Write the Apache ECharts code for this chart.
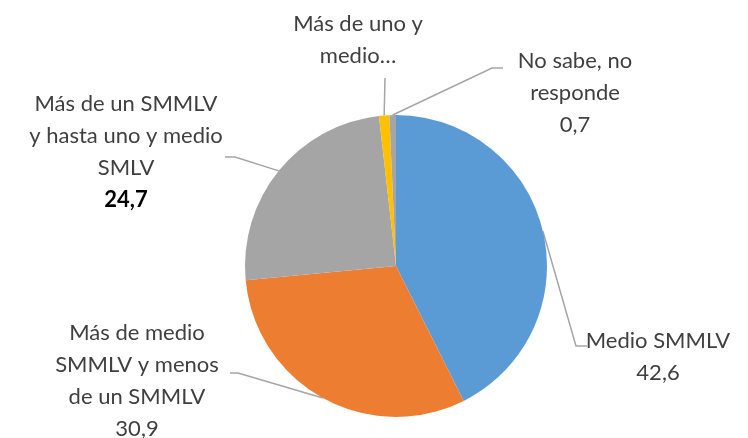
<!DOCTYPE html>
<html>
<head>
<meta charset="utf-8">
<script src="https://cdn.jsdelivr.net/npm/echarts@6/dist/echarts.min.js"></script>
<style>
html, body { margin: 0; padding: 0; background: #fff; }
#main { width: 748px; height: 438px; }
</style>
</head>
<body>
<div id="main"></div>
<script>
// datos
var categories = ['Medio SMMLV', 'Más de medio\nSMMLV y menos\nde un SMMLV', 'Más de un SMMLV\ny hasta uno y medio\nSMLV', 'Más de uno y\nmedio…', 'No sabe, no\nresponde'];
var values = [42.6, 30.9, 24.7, 1.1, 0.7];
var showValue = [true, true, true, false, true];
var colors = ['#5B9BD5', '#ED7D31', '#A5A5A5', '#FFC000', '#A5A5A5'];

// posiciones de etiquetas (centro del texto) y codo de la linea
var labelPos = [
    { x: 658, y: 357, elbow: [[576, 346], [587, 346]] },
    { x: 137, y: 381, elbow: [[238, 373], [230, 373]] },
    { x: 126, y: 152, elbow: [[235, 157], [225, 157]] },
    { x: 358, y: 40, elbow: [[385, 78]] },
    { x: 575, y: 93, elbow: [[492, 68], [503, 68]] }
];

var myChart = echarts.init(document.getElementById('main'));

var pieData = values.map(function(v, i) {
    return { name: categories[i], value: v, itemStyle: { color: colors[i] } };
});

var option = {
    animation: false,
    series: [{
        type: 'pie',
        center: [396, 266],
        radius: 151,
        startAngle: 90,
        clockwise: true,
        data: pieData,
        itemStyle: { borderWidth: 0 },
        label: {
            show: true,
            position: 'outside',
            fontFamily: 'Lato',
            fontSize: 22,
            lineHeight: 32,
            color: '#404040',
            align: 'center',
            overflow: 'none',
            formatter: function(p) {
                var s = '{n|' + p.name + '}';
                if (showValue[p.dataIndex]) {
                    var v = p.value.toFixed(1).replace('.', ',');
                    s += '\n{' + (p.dataIndex == 2 ? 'b' : 'n') + '|' + v + '}';
                }
                return s;
            },
            rich: {
                n: { fontFamily: 'Lato', fontSize: 22, lineHeight: 32, color: '#404040', align: 'center' },
                b: { fontFamily: 'Lato', fontSize: 22, lineHeight: 32, color: '#000', fontWeight: 'bold', align: 'center' }
            }
        },
        labelLine: {
            show: true,
            lineStyle: { color: '#A5A5A5', width: 1.5 }
        },
        labelLayout: function(params) {
            var lp = labelPos[params.dataIndex];
            var start = params.labelLinePoints ? params.labelLinePoints[0] : null;
            var pts = start ? [start].concat(lp.elbow) : null;
            return {
                x: lp.x,
                y: lp.y,
                align: 'center',
                verticalAlign: 'middle',
                labelLinePoints: pts
            };
        }
    }]
};

myChart.setOption(option);
</script>
</body>
</html>
